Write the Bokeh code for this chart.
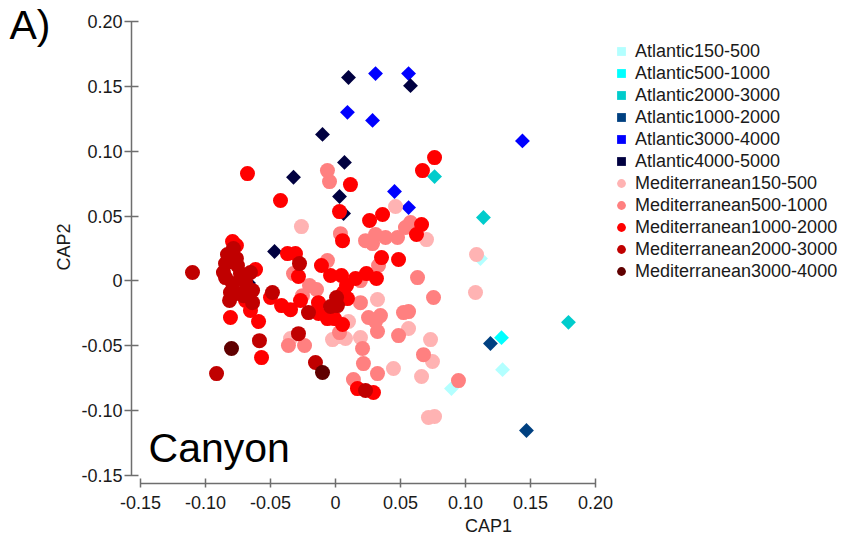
import math
from bokeh.plotting import figure
from bokeh.models import Legend, LegendItem, FixedTicker, Label, Range1d
from bokeh.embed import file_html
from bokeh.resources import INLINE

FONT = "Liberation Sans"

# ---------------- data (CAP1, CAP2) ----------------
atl_150_500_x = [0.1115, 0.1285, 0.0892]
atl_150_500_y = [0.0173, -0.0684, -0.0830]

atl_500_1000_x = [0.1277]
atl_500_1000_y = [-0.0437]

atl_2000_3000_x = [0.0762, 0.1138, 0.1792]
atl_2000_3000_y = [0.0805, 0.0489, -0.0319]

atl_1000_2000_x = [0.1192, 0.1469]
atl_1000_2000_y = [-0.0482, -0.1153]

atl_3000_4000_x = [0.0308, 0.0562, 0.0092, 0.0285, 0.0454, 0.0562, 0.1438]
atl_3000_4000_y = [0.1599, 0.1599, 0.1300, 0.1238, 0.0690, 0.0566, 0.1080]

atl_4000_5000_x = [0.0100, 0.0577, -0.0100, 0.0069, -0.0323, 0.0031, 0.0062, -0.0469, -0.0669]
atl_4000_5000_y = [0.1569, 0.1506, 0.1130, 0.0914, 0.0800, 0.0651, 0.0520, 0.0227, -0.0016]

med_150_500_x = [-0.0262, 0.0462, 0.0700, 0.1085, 0.1077, 0.0323, 0.0100, 0.0023, -0.0023,
                 0.0077, 0.0192, -0.0346, 0.0562, 0.0731, 0.0746, 0.0446, 0.0662, 0.0715, 0.0762]
med_150_500_y = [0.0419, 0.0574, 0.0319, 0.0204, -0.0089, -0.0143, -0.0313, -0.0429, -0.0452,
                 -0.0444, -0.0436, -0.0444, -0.0367, -0.0452, -0.0621, -0.0675, -0.0737, -0.1053, -0.1045]

med_500_1000_x = [-0.0062, -0.0046, 0.0038, 0.0231, 0.0285, 0.0308, 0.0385, 0.0477, 0.0538, 0.0577,
                  -0.0323, -0.0062, 0.0331, 0.0631, -0.0200, -0.0146, -0.0254, 0.0192, 0.0192, 0.0254,
                  0.0346, 0.0308, 0.0323, 0.0523, 0.0562, 0.0485, -0.0362, -0.0238, 0.0208, 0.0031,
                  0.0138, 0.0215, 0.0323, 0.0754, 0.0677, 0.0946]
med_500_1000_y = [0.0851, 0.0766, 0.0365, 0.0311, 0.0288, 0.0358, 0.0335, 0.0335, 0.0412, 0.0450,
                  0.0057, 0.0157, 0.0119, 0.0026, -0.0035, -0.0066, -0.0113, 0.0003, -0.0167, -0.0282,
                  -0.0267, -0.0313, -0.0390, -0.0244, -0.0236, -0.0421, -0.0498, -0.0498, -0.0521, -0.0398,
                  -0.0760, -0.0637, -0.0714, -0.0128, -0.0568, -0.0768]

med_1000_2000_x = [-0.0677, -0.0423, 0.0115, 0.0031, 0.0262, 0.0362, 0.0669, 0.0762, 0.0054, 0.0662,
                   0.0623, 0.0354, 0.0485, -0.0369, -0.0308, -0.0285, -0.0108, -0.0038, 0.0046, 0.0154,
                   0.0238, 0.0315, 0.0085, 0.0062, 0.0092, -0.0131, -0.0269, -0.0415, -0.0346, -0.0131,
                   -0.0062, -0.0008, 0.0054, -0.0792, -0.0615, -0.0692, -0.0654, -0.0808, -0.0592, -0.0500,
                   -0.0569, 0.0169, 0.0292, -0.0762]
med_1000_2000_y = [0.0828, 0.0620, 0.0743, 0.0535, 0.0466, 0.0512, 0.0851, 0.0951, 0.0311, 0.0435,
                   0.0358, 0.0180, 0.0165, 0.0211, 0.0211, 0.0034, 0.0119, 0.0042, 0.0042, 0.0019,
                   0.0057, 0.0019, -0.0035, -0.0089, -0.0136, -0.0167, -0.0151, -0.0190, -0.0221, -0.0251,
                   -0.0290, -0.0290, -0.0336, 0.0304, 0.0088, -0.0151, -0.0228, -0.0282, -0.0313, -0.0128,
                   -0.0591, -0.0830, -0.0860, 0.0273]

med_2000_3000_x = [-0.0277, 0.0008, -0.0038, -0.0208, -0.0285, -0.0485, -0.0785, -0.0831, -0.1100, -0.0846,
                   -0.0754, -0.0862, -0.0654, -0.0731, -0.0846, -0.0792, -0.0808, -0.0638, -0.0708, -0.0638,
                   -0.0585, -0.0915, 0.0015, -0.0154, 0.0231, -0.0746, -0.0762, -0.0692, -0.0815]
med_2000_3000_y = [0.0134, -0.0128, -0.0197, -0.0244, -0.0406, -0.0089, 0.0250, 0.0204, 0.0065, 0.0134,
                   0.0119, 0.0065, 0.0065, 0.0057, 0.0026, -0.0020, -0.0089, -0.0074, -0.0113, -0.0167,
                   -0.0460, -0.0714, -0.0190, -0.0629, -0.0845, -0.0097, 0.0173, -0.0012, -0.0150]

med_3000_4000_x = [-0.0800, -0.0100]
med_3000_4000_y = [-0.0521, -0.0706]

group_names = ["Atlantic150-500", "Atlantic500-1000", "Atlantic2000-3000", "Atlantic1000-2000",
               "Atlantic3000-4000", "Atlantic4000-5000", "Mediterranean150-500", "Mediterranean500-1000",
               "Mediterranean1000-2000", "Mediterranean2000-3000", "Mediterranean3000-4000"]
group_colors = ["#B3FFFF", "#00FFFF", "#00CCCC", "#004080", "#0000FF", "#000040",
                "#FFB3B3", "#FF8080", "#FF0000", "#C00000", "#600000"]
group_x = [atl_150_500_x, atl_500_1000_x, atl_2000_3000_x, atl_1000_2000_x, atl_3000_4000_x, atl_4000_5000_x,
           med_150_500_x, med_500_1000_x, med_1000_2000_x, med_2000_3000_x, med_3000_4000_x]
group_y = [atl_150_500_y, atl_500_1000_y, atl_2000_3000_y, atl_1000_2000_y, atl_3000_4000_y, atl_4000_5000_y,
           med_150_500_y, med_500_1000_y, med_1000_2000_y, med_2000_3000_y, med_3000_4000_y]

tick_vals = [-0.15, -0.1, -0.05, 0, 0.05, 0.1, 0.15, 0.2]
tick_labels = ["-0.15", "-0.10", "-0.05", "0", "0.05", "0.10", "0.15", "0.20"]

# ---------------- figure ----------------
p = figure(width=845, height=540, output_backend="svg", toolbar_location=None,
           x_range=Range1d(-0.15692, 0.39231), y_range=Range1d(-0.15615, 0.20853),
           min_border_left=131, min_border_right=0, min_border_top=10, min_border_bottom=57,
           x_axis_label="CAP1", y_axis_label="CAP2")
p.outline_line_color = None
p.xgrid.visible = False
p.ygrid.visible = False
p.background_fill_color = "white"
p.border_fill_color = "white"

for ax in (p.xaxis[0], p.yaxis[0]):
    ax.ticker = FixedTicker(ticks=tick_vals)
    ax.major_label_overrides = dict(zip(tick_vals, tick_labels))
    ax.bounds = (-0.15, 0.20)
    ax.axis_line_color = "#6e6e6e"
    ax.axis_line_width = 1.5
    ax.major_tick_line_color = "#6e6e6e"
    ax.major_tick_line_width = 1.5
    ax.minor_tick_line_color = None
    ax.major_label_text_font = FONT
    ax.major_label_text_font_size = "18px"
    ax.major_label_text_color = "#1a1a1a"
    ax.axis_label_text_font = FONT
    ax.axis_label_text_font_size = "18px"
    ax.axis_label_text_font_style = "normal"
    ax.axis_label_text_color = "#1a1a1a"

p.xaxis[0].major_tick_in = 5
p.xaxis[0].major_tick_out = 4
p.xaxis[0].major_label_standoff = 8
p.xaxis[0].axis_label_standoff = 4
p.yaxis[0].major_tick_in = 7
p.yaxis[0].major_tick_out = 7
p.yaxis[0].major_label_standoff = 2
p.yaxis[0].axis_label_standoff = 4

items = []
for name, color, xs, ys in zip(group_names, group_colors, group_x, group_y):
    if name.startswith("Atlantic"):
        r = p.scatter(xs, ys, marker="square", angle=math.pi / 4, size=10.5,
                      fill_color=color, line_color=None)
    else:
        r = p.scatter(xs, ys, marker="circle", size=15,
                      fill_color=color, line_color=None)
    items.append(LegendItem(label=name, renderers=[r]))

legend = Legend(items=items, location=(479, 201), padding=0, margin=0, spacing=0,
                glyph_width=22, glyph_height=22, label_height=22, label_standoff=3,
                label_text_font=FONT, label_text_font_size="18px", label_text_color="#1a1a1a",
                border_line_color=None, background_fill_alpha=0)
p.add_layout(legend)

p.add_layout(Label(x=-0.1438, y=-0.1290, text="Canyon", text_font=FONT,
                   text_font_size="41px", text_color="black", text_baseline="alphabetic"))
p.add_layout(Label(x=9, y=24, x_units="canvas", y_units="canvas", text="A)", text_font=FONT,
                   text_font_size="41px", text_color="black", text_baseline="alphabetic"), "left")

open("out.html", "w").write(file_html(p, INLINE))
